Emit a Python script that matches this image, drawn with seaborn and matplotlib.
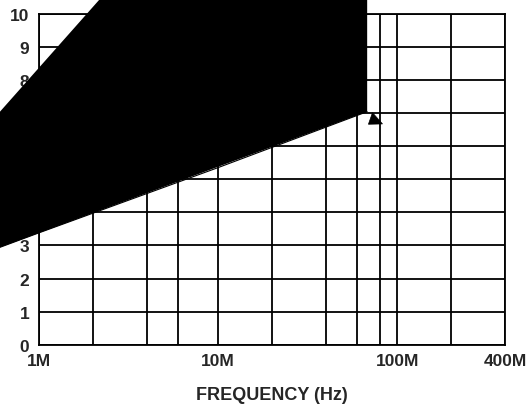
import matplotlib
matplotlib.use("Agg")
import matplotlib.pyplot as plt
import seaborn as sns
import pandas as pd

# Shaded operating region (frequency in MHz, level on the 0-10 scale)
region_freq_mhz = [0.3, 68.0, 68.0, 3.94, 0.3]
region_level = [2.33, 7.04, 12.0, 12.0, 5.18]

# Lower boundary of the region
edge_freq_mhz = [0.3, 1.0, 10.0, 68.0]
edge_level = [2.33, 3.38, 5.35, 7.04]

# Pointer head at the region's corner
pointer_freq_mhz = [72.8, 69.1, 82.8]
pointer_level = [7.01, 6.66, 6.67]

# Axis ticks and grid
x_tick_mhz = [1, 10, 100, 400]
x_tick_labels = ["1M", "10M", "100M", "400M"]
x_grid_mhz = [2, 4, 6, 20, 40, 60, 80, 200]
y_ticks = list(range(0, 11))

sns.set_style("white")
plt.rcParams["font.family"] = ["Liberation Sans", "DejaVu Sans"]
plt.rcParams["font.weight"] = "bold"

fig = plt.figure(figsize=(5.29, 4.06), dpi=100)
ax = fig.add_axes([0.0737, 0.1485, 0.8809, 0.8153])

ax.set_xscale("log")
ax.set_xlim(1, 400)
ax.set_ylim(0, 10)

ax.set_xticks(x_tick_mhz)
ax.set_xticklabels(x_tick_labels)
ax.set_xticks(x_grid_mhz, minor=True)
ax.set_xticklabels([], minor=True)
ax.set_yticks(y_ticks)
ax.set_yticklabels([str(v) for v in y_ticks])

ax.grid(True, which="both", color="black", linewidth=1.3)
ax.set_axisbelow(True)
for side in ax.spines.values():
    side.set_color("black")
    side.set_linewidth(1.3)

ax.tick_params(axis="both", which="both", length=0, labelsize=12.5)
ax.tick_params(axis="x", pad=6)
ax.tick_params(axis="y", pad=7)
for lab in ax.get_xticklabels() + ax.get_yticklabels():
    lab.set_fontweight("bold")

ax.set_xlabel("FREQUENCY (Hz)", fontsize=13, fontweight="bold", labelpad=13)

# Filled region, allowed to spill past the axes
ax.fill(region_freq_mhz, region_level, color="black", linewidth=0,
        clip_on=False, zorder=3)

edge = pd.DataFrame({"freq": edge_freq_mhz, "level": edge_level})
sns.lineplot(data=edge, x="freq", y="level", ax=ax, color="black",
             linewidth=0.8, zorder=3)
for ln in ax.lines:
    ln.set_clip_on(False)

ax.fill(pointer_freq_mhz, pointer_level, color="black", linewidth=0.5,
        edgecolor="black", zorder=4)

ax.set_ylabel("")
fig.savefig("out.png", dpi=100)
